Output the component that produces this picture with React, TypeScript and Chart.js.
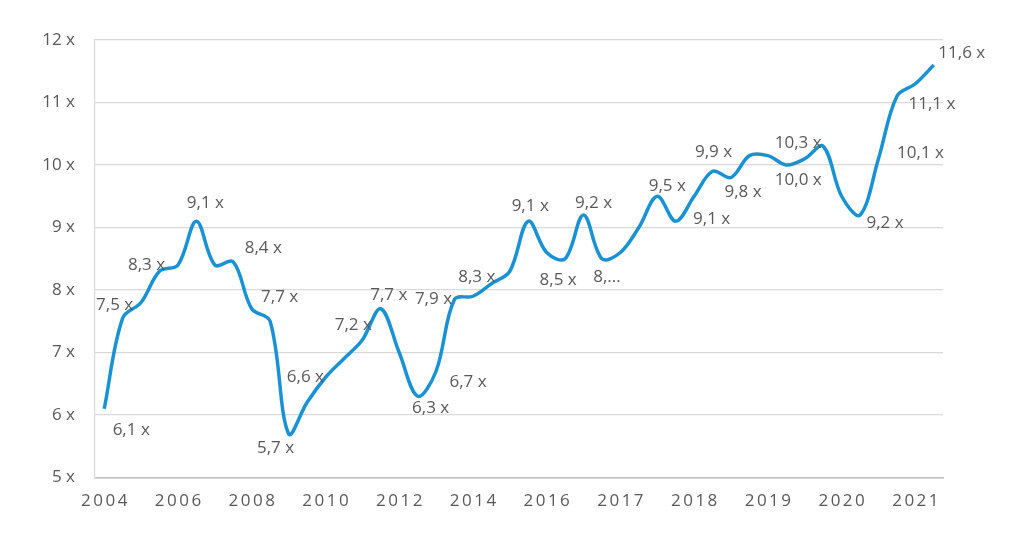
import React, { useEffect, useRef } from 'react';
import { Chart, registerables } from 'chart.js';

Chart.register(...registerables);

// Periods: half-years 2004–2015, then quarters 2016–2021
const categories = [
  '2004 H1', '2004 H2', '2005 H1', '2005 H2', '2006 H1', '2006 H2', '2007 H1', '2007 H2',
  '2008 H1', '2008 H2', '2009 H1', '2009 H2', '2010 H1', '2010 H2', '2011 H1', '2011 H2',
  '2012 H1', '2012 H2', '2013 H1', '2013 H2', '2014 H1', '2014 H2', '2015 H1', '2015 H2',
  '2016 Q1', '2016 Q2', '2016 Q3', '2016 Q4', '2017 Q1', '2017 Q2', '2017 Q3', '2017 Q4',
  '2018 Q1', '2018 Q2', '2018 Q3', '2018 Q4', '2019 Q1', '2019 Q2', '2019 Q3', '2019 Q4',
  '2020 Q1', '2020 Q2', '2020 Q3', '2020 Q4', '2021 Q1', '2021 Q2',
];

const tickYears = ['2004', '2006', '2008', '2010', '2012', '2014', '2016', '2017', '2018', '2019', '2020', '2021'];

const multiples = [
  6.1, 7.55, 7.8, 8.3, 8.4, 9.1, 8.4, 8.45, 7.7, 7.5, 5.7, 6.2, 6.6, 6.9, 7.2, 7.7,
  7.0, 6.3, 6.7, 7.85, 7.9, 8.1, 8.3, 9.1, 8.6, 8.5, 9.2, 8.5, 8.6, 9.0, 9.5, 9.1,
  9.5, 9.9, 9.8, 10.15, 10.15, 10.0, 10.1, 10.3, 9.5, 9.2, 10.1, 11.1, 11.3, 11.6,
];

const pointLabels: (string | null)[] = [
  '6,1 x', '7,5 x', null, '8,3 x', null, '9,1 x', null, '8,4 x', '7,7 x', null, '5,7 x', null, '6,6 x', null, '7,2 x', '7,7 x',
  null, '6,3 x', '6,7 x', '7,9 x', null, null, '8,3 x', '9,1 x', null, '8,5 x', '9,2 x', '8,...', null, null, '9,5 x', '9,1 x',
  null, '9,9 x', '9,8 x', null, null, '10,0 x', null, '10,3 x', null, '9,2 x', '10,1 x', '11,1 x', null, '11,6 x',
];

const yTicks = [5, 6, 7, 8, 9, 10, 11, 12];

const FONT = '"Open Sans", "Noto Sans", sans-serif';
const TEXT_COLOR = '#595959';
const LINE_COLOR = '#1a92d2';
const GRID_COLOR = '#d9d9d9';

const labelOffsets: Record<number, [number, number]> = {
  0: [27, 21], 1: [-8, -13], 3: [-13, -6], 5: [9, -18], 7: [30, -14], 8: [28, -12],
  10: [-13, 14], 12: [-20, 0], 14: [-9, -15], 15: [8, -14], 17: [13, 12], 18: [32, 11],
  19: [-21, 0], 22: [-33, 6], 23: [2, -15], 25: [-7, 21], 26: [10, -12], 27: [5, 18],
  30: [10, -10], 31: [36, -2], 33: [1, -19], 34: [12, 15], 37: [12, 15], 39: [-25, -3],
  41: [25, 8], 42: [42, -6], 43: [35, 8], 45: [28, -12],
};

const textPlugin = {
  id: 'textPlugin',
  afterDatasetsDraw(chart: any) {
    const ctx = chart.ctx as CanvasRenderingContext2D;
    const meta = chart.getDatasetMeta(0);
    ctx.save();
    ctx.font = `17px ${FONT}`;
    ctx.fillStyle = TEXT_COLOR;
    ctx.textAlign = 'center';
    ctx.textBaseline = 'middle';
    pointLabels.forEach((t, i) => {
      if (!t) return;
      const p = meta.data[i];
      const off = labelOffsets[i] || [0, -15];
      ctx.fillText(t, p.x + off[0], p.y + off[1]);
    });
    const xs = chart.scales.x;
    (ctx as any).letterSpacing = '2.5px';
    tickYears.forEach((label, k) => {
      const x = xs.getPixelForValue(k * 4);
      ctx.fillText(label, x + 1.25, xs.top + 24);
    });
    ctx.restore();
  },
};

export default function App() {
  const canvasRef = useRef<HTMLCanvasElement | null>(null);

  useEffect(() => {
    const canvas = canvasRef.current;
    if (!canvas) return;
    const chart = new Chart(canvas, {
      type: 'line',
      data: {
        labels: categories,
        datasets: [
          {
            data: multiples,
            borderColor: LINE_COLOR,
            borderWidth: 3.5,
            pointRadius: 0,
            pointHoverRadius: 0,
            tension: 0.35,
            fill: false,
          },
        ],
      },
      options: {
        animation: false,
        responsive: false,
        events: [],
        layout: { padding: { left: 0, top: 40, right: 81, bottom: 0 } },
        plugins: {
          legend: { display: false },
          tooltip: { enabled: false },
          title: { display: false },
        },
        scales: {
          x: {
            type: 'category',
            offset: true,
            grid: { display: false, drawTicks: false },
            border: { display: true, color: '#bfbfbf', width: 1.5 },
            ticks: { display: false, autoSkip: false, maxRotation: 0 },
            afterFit: (s: any) => {
              s.height = 64.5;
            },
          },
          y: {
            min: yTicks[0],
            max: yTicks[yTicks.length - 1],
            afterBuildTicks: (s: any) => {
              s.ticks = yTicks.map((v) => ({ value: v }));
            },
            grid: { color: GRID_COLOR, lineWidth: 1.2, drawTicks: false },
            border: { display: true, color: GRID_COLOR, width: 1.2 },
            ticks: {
              color: TEXT_COLOR,
              font: { family: FONT, size: 17 },
              padding: 20,
              callback: (v: any) => `${v} x`,
            },
            afterFit: (s: any) => {
              s.width = 95;
            },
          },
        },
      },
      plugins: [textPlugin],
    });
    return () => chart.destroy();
  }, []);

  return (
    <div style={{ position: 'fixed', left: 0, top: 0, width: 1024, height: 542, background: '#fff' }}>
      <canvas ref={canvasRef} width={1024} height={542} style={{ display: 'block' }} />
    </div>
  );
}
